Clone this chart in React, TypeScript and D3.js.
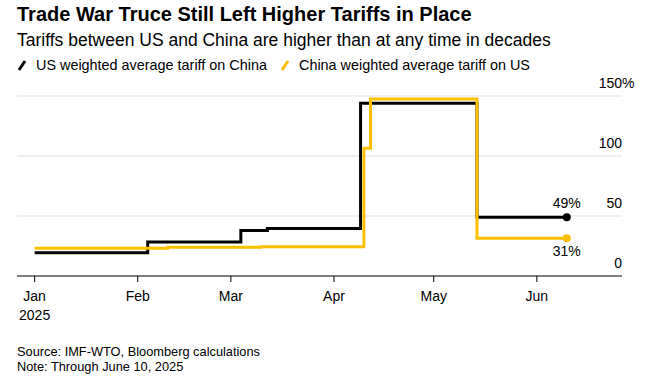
import React from "react";
import * as d3 from "d3";

const W = 670;
const H = 377;

const title = "Trade War Truce Still Left Higher Tariffs in Place";
const subtitle = "Tariffs between US and China are higher than at any time in decades";
const seriesNames = ["US weighted average tariff on China", "China weighted average tariff on US"];
const seriesColors = ["#000000", "#fcc000"];

const usDates = ["2025-01-01", "2025-02-04", "2025-03-04", "2025-03-12", "2025-04-09", "2025-05-14", "2025-06-10"];
const usValues = [19.3, 28.3, 38.0, 39.6, 143.9, 49, 49];

const cnDates = ["2025-01-01", "2025-02-10", "2025-03-10", "2025-04-10", "2025-04-12", "2025-05-14", "2025-06-10"];
const cnValues = [23.1, 23.9, 24.4, 106.4, 147.5, 31.5, 31.5];

const endLabels = ["49%", "31%"];

const yTicks = [0, 50, 100, 150];
const xTickDates = ["2025-01-01", "2025-02-01", "2025-03-01", "2025-04-01", "2025-05-01", "2025-06-01"];
const xTickLabels = ["Jan", "Feb", "Mar", "Apr", "May", "Jun"];

const source = "Source: IMF-WTO, Bloomberg calculations";
const note = "Note: Through June 10, 2025";

const FONT = "'Liberation Sans', Arial, Helvetica, sans-serif";

export default function App() {
  const parse = (s: string) => new Date(s + "T00:00:00Z");
  const x = d3.scaleUtc().domain([parse("2024-12-27"), parse("2025-06-26")]).range([18, 620]);
  const y = d3.scaleLinear().domain([0, 150]).range([276, 96]);

  const line = d3
    .line<[Date, number]>()
    .x((d) => x(d[0]))
    .y((d) => y(d[1]))
    .curve(d3.curveStepAfter);

  const us: [Date, number][] = usDates.map((d, i) => [parse(d), usValues[i]]);
  const cn: [Date, number][] = cnDates.map((d, i) => [parse(d), cnValues[i]]);
  const series = [us, cn];

  const gridX0 = 17;
  const gridX1 = 622;

  return (
    <svg width={W} height={H} style={{ display: "block", position: "absolute", left: 0, top: 0, background: "#fff" }} fontFamily={FONT}>
      <text x={17} y={21} fontSize={20} fontWeight="bold" fill="#000">{title}</text>
      <text x={17} y={46} fontSize={17.5} fill="#000">{subtitle}</text>

      {/* legend */}
      <line x1={19} y1={70} x2={25} y2={61} stroke={seriesColors[0]} strokeWidth={3} />
      <text x={36} y={70} fontSize={14.4} fill="#000">{seriesNames[0]}</text>
      <line x1={282} y1={70} x2={288} y2={61} stroke={seriesColors[1]} strokeWidth={3} />
      <text x={299} y={70} fontSize={14.4} fill="#000">{seriesNames[1]}</text>

      {/* grid */}
      {yTicks.filter((t) => t > 0).map((t) => (
        <line key={t} x1={gridX0} x2={gridX1} y1={y(t)} y2={y(t)} stroke="#e1e1e1" strokeWidth={1} />
      ))}
      {yTicks.map((t) => (
        <text key={"l" + t} x={622} y={y(t) - 8.5} fontSize={14} fill="#000" textAnchor="end">
          {t}
        </text>
      ))}
      <text x={622} y={y(150) - 8.5} fontSize={14} fill="#000" textAnchor="start">%</text>

      {/* x axis */}
      <line x1={gridX0} x2={gridX1} y1={y(0)} y2={y(0)} stroke="#000" strokeWidth={1} />
      {xTickDates.map((d, i) => {
        const px = x(parse(d));
        return (
          <g key={d}>
            <line x1={px} x2={px} y1={y(0)} y2={y(0) + 6} stroke="#000" strokeWidth={1} />
            <text x={px} y={301} fontSize={14} textAnchor="middle" fill="#000">{xTickLabels[i]}</text>
          </g>
        );
      })}
      <text x={x(parse(xTickDates[0]))} y={319.5} fontSize={14} textAnchor="middle" fill="#000">2025</text>

      {/* lines: black first, yellow on top */}
      {series.map((s, i) => (
        <path key={i} d={line(s) || ""} fill="none" stroke={seriesColors[i]} strokeWidth={3} strokeLinejoin="miter" />
      ))}
      {series.map((s, i) => {
        const last = s[s.length - 1];
        return <circle key={"c" + i} cx={x(last[0])} cy={y(last[1])} r={4} fill={seriesColors[i]} />;
      })}
      <text x={x(us[us.length - 1][0])} y={y(us[us.length - 1][1]) - 9} fontSize={14} textAnchor="middle" fill="#000">{endLabels[0]}</text>
      <text x={x(cn[cn.length - 1][0])} y={y(cn[cn.length - 1][1]) + 18} fontSize={14} textAnchor="middle" fill="#000">{endLabels[1]}</text>

      <text x={17} y={356} fontSize={12.8} fill="#000">{source}</text>
      <text x={17} y={371} fontSize={12.8} fill="#000">{note}</text>
    </svg>
  );
}
